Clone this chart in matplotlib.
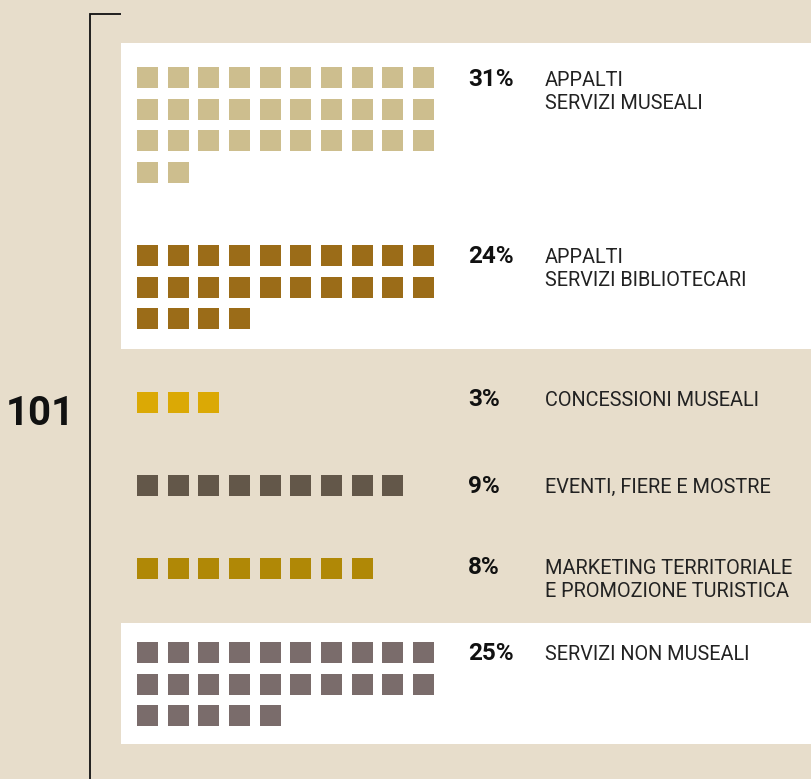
import matplotlib
matplotlib.use("Agg")
import matplotlib.pyplot as plt
from matplotlib.patches import Rectangle

# --- data -----------------------------------------------------------------
categories = [
    "APPALTI\nSERVIZI MUSEALI",
    "APPALTI\nSERVIZI BIBLIOTECARI",
    "CONCESSIONI MUSEALI",
    "EVENTI, FIERE E MOSTRE",
    "MARKETING TERRITORIALE\nE PROMOZIONE TURISTICA",
    "SERVIZI NON MUSEALI",
]
counts = [32, 24, 3, 9, 8, 25]
percent_labels = ["31%", "24%", "3%", "9%", "8%", "25%"]
colors = ["#cdbe8e", "#9b6c18", "#dba905", "#635749", "#b08806", "#7a6c6b"]

# --- layout (pixel units, origin top-left) ---------------------------------
W, H = 812, 779
BG = "#e7ddcb"
group_tops = [67, 245, 392, 475, 558, 642]
text_baselines = [86, 263, 406, 493, 574, 660]
panels = [(121, 43, W - 121, 306), (121, 623, W - 121, 121)]
per_row = 10
x0, dx, dy, size = 137, 30.67, 31.67, 21
pct_x, label_x, line_gap = 468, 545, 23
FONT = ["Roboto", "DejaVu Sans"]

fig = plt.figure(figsize=(W / 100, H / 100), dpi=100, facecolor=BG)
ax = fig.add_axes([0, 0, 1, 1])
ax.set_xlim(0, W)
ax.set_ylim(H, 0)
ax.axis("off")
ax.set_facecolor(BG)

for (px, py, pw, ph) in panels:
    ax.add_patch(Rectangle((px, py), pw, ph, facecolor="white", edgecolor="none", zorder=1))

# bracket with the total
ax.plot([121, 90.5, 90.5], [13.5, 13.5, H + 5], color="#111111", lw=1.3,
        solid_joinstyle="miter", solid_capstyle="butt", zorder=3)
ax.text(40, 425, str(sum(counts)), family=FONT, fontweight="bold", fontsize=29,
        color="#111111", ha="center", va="baseline", zorder=4)

# unit squares, one per item
for cat, n, pct, col, top, base in zip(categories, counts, percent_labels, colors,
                                       group_tops, text_baselines):
    for k in range(n):
        r, c = divmod(k, per_row)
        x = round(x0 + c * dx)
        y = round(top + r * dy)
        ax.add_patch(Rectangle((x, y), size, size, facecolor=col, edgecolor="none",
                               antialiased=False, zorder=2))
    ax.text(pct_x, base, pct, family=FONT, fontweight="bold", fontsize=17.5,
            color="#111111", ha="left", va="baseline", zorder=4)
    for i, line in enumerate(cat.split("\n")):
        ax.text(label_x, base + i * line_gap, line, family=FONT, fontsize=14.3,
                color="#222222", ha="left", va="baseline", zorder=4)

fig.savefig("out.png", dpi=100, facecolor=BG)
